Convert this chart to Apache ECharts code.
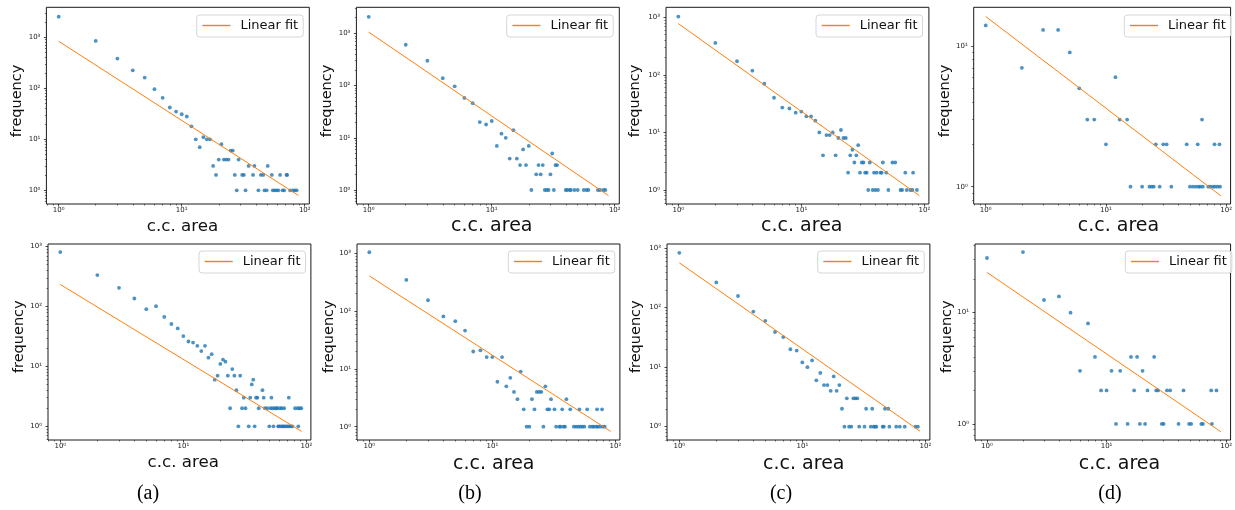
<!DOCTYPE html>
<html><head><meta charset="utf-8">
<script src="https://cdn.jsdelivr.net/npm/echarts@6/dist/echarts.min.js"></script>
<style>html,body{margin:0;padding:0;background:#fff}#c{width:1235px;height:510px}</style>
</head><body><div id="c"></div>
<script>
// ---------- data ----------
const xA1 = [1,2,3,4,5,6,7,8,9,10,11,12,13,14,15,16,17,18,19,20,21,22,23,24,25,26,27,28,29,31,32,33,35,38,39,42,44,46,47,49,50,54,55,57,59,61,63,66,68,71,72,76,80,83,86];
const yA1 = [2540,848,382,225,162,96,65,42,35,31,28,18,10,7,11,10,10,3,2,4,8,4,4,4,6,6,2,1,4,2,2,1,3,2,3,1,2,2,1,1,3,2,1,1,1,1,2,1,1,2,2,1,1,1,1];
const fitA1X = [1, 89], fitA1Y = [835, 0.79];

const xB1 = [1,2,3,4,5,6,7,8,9,10,11,12,13,14,15,16,17,18,19,20,21,23,24,25,26,27,28,29,30,31,32,33,34,40,41,43,44,47,50,56,59,61,73,76,81,84];
const yB1 = [2080,606,299,139,97,58,46,20,18,21,7,12,10,4,14,4,3,6,3,7,1,2,3,2,3,1,1,1,2,5,1,3,3,1,1,1,1,1,1,1,1,1,1,1,1,1];
const fitB1X = [1, 89], fitB1Y = [1060, 0.78];

const xC1 = [1,2,3,4,5,6,7,8,9,10,11,12,13,14,15,16,17,18,19,20,21,22,23,24,25,26,27,28,29,30,31,32,33,34,35,36,38,39,40,41,42,44,45,46,49,51,55,58,64,66,70,72,77,80,81,87];
const yC1 = [1026,358,172,118,70,40,27,26,22,23,19,19,16,10,4,9,9,10,4,8,11,8,8,2,4,5,3,4,6,2,3,3,2,2,1,3,1,2,1,2,1,2,2,3,2,1,3,3,1,1,2,1,1,1,2,1];
const fitC1X = [1, 91], fitC1Y = [775, 0.80];

const xD1 = [1,2,3,4,5,6,7,8,10,12,13,15,16,20,23,24,25,26,28,30,32,35,47,50,53,56,58,59,61,63,64,71,74,78,80,81,85,88,89];
const yD1 = [14,7,13,13,9,5,3,3,2,6,3,3,1,1,1,1,1,2,1,2,2,1,2,1,1,1,2,1,1,3,1,1,1,1,2,1,1,2,1];
const fitD1X = [1, 90.5], fitD1Y = [16.2, 0.86];

const xA2 = [1,2,3,4,5,6,7,8,9,10,11,12,13,14,15,16,17,18,19,20,21,22,23,24,25,26,27,28,29,30,31,32,34,35,36,37,38,39,40,41,44,45,46,48,50,51,52,53,54,55,57,58,59,60,61,62,63,64,65,66,67,69,71,72,73,75,77,81,85,86,88,91];
const yA2 = [809,334,205,136,90,101,67,51,43,32,26,25,22,18,22,14,16,6,7,11,13,12,7,2,9,7,4,1,7,2,3,2,1,3,5,6,1,3,3,2,4,3,2,2,1,2,3,2,1,2,2,2,1,1,2,1,2,1,1,2,1,1,1,3,1,1,1,2,2,1,2,2];
const fitA2X = [1, 91.6], fitA2Y = [233, 0.82];

const xB2 = [1,2,3,4,5,6,7,8,9,10,11,12,13,14,15,16,17,18,19,20,21,22,23,24,25,26,27,28,29,30,32,33,35,36,37,38,39,40,43,46,48,50,51,52,54,56,59,62,65,67,70,71,72,75,78,79,82];
const yB2 = [1042,346,154,81,67,46,20,21,16,16,6,16,5,7,4,3,9,2,1,1,3,2,4,4,4,1,5,2,2,3,2,1,1,1,2,1,1,3,2,1,1,1,2,1,1,1,2,1,1,1,1,2,1,1,2,1,1];
const fitB2X = [1, 91.6], fitB2Y = [406, 0.83];

const xC2 = [1,2,3,4,5,6,7,8,9,10,11,12,13,14,15,16,17,18,19,20,21,22,23,24,25,26,27,28,29,32,33,36,37,38,39,40,45,46,47,50,51,58,62,68,83,87];
const yC2 = [835,266,157,86,60,39,32,20,19,12,10,13,6,8,5,5,4,7,4,5,2,1,3,1,1,3,3,3,1,1,2,1,2,1,1,1,1,1,2,2,1,1,1,1,1,1];
const fitC2X = [1, 90.5], fitC2Y = [568, 0.84];

const xD2 = [1,2,3,4,5,6,7,8,9,10,11,12,13,15,16,17,18,19,20,21,22,25,26,27,29,30,32,34,40,44,49,51,62,64,75,76,83];
const yD2 = [31,35,13,14,10,3,8,4,2,2,3,1,3,1,4,2,4,1,3,1,2,4,2,2,1,1,2,2,1,2,1,1,1,1,2,1,2];
const fitD2X = [1, 90.5], fitD2Y = [23, 0.85];

const xTickValues = [1, 10, 100];
const xTickLabels = ['10\u2070', '10\u00b9', '10\u00b2'];
const yTickValues4 = [1, 10, 100, 1000];
const yTickLabels4 = ['10\u2070', '10\u00b9', '10\u00b2', '10\u00b3'];
const yTickValues2 = [1, 10];
const yTickLabels2 = ['10\u2070', '10\u00b9'];
const captions = ['(a)', '(b)', '(c)', '(d)'];
const xName = 'c.c. area', yName = 'frequency', fitName = 'Linear fit';

// ---------- layout ----------
const XLO = -0.1, XHI = 2.037, GW = 262.9;
const panels = [
  {x:xA1,y:yA1,fx:fitA1X,fy:fitA1Y,yt:yTickValues4,yl:yTickLabels4,left:46.4,top:7.3,h:196.7,yLo:-0.2686,yHi:3.588,legL:196.7,legT:15,nx:182.5,ny:227,nfs:16.7,fx0:17.5,fy0:101},
  {x:xB1,y:yB1,fx:fitB1X,fy:fitB1Y,yt:yTickValues4,yl:yTickLabels4,left:356.4,top:7.3,h:196.7,yLo:-0.268,yHi:3.50,legL:506.7,legT:15,nx:491.8,ny:226,nfs:19,fx0:327,fy0:101},
  {x:xC1,y:yC1,fx:fitC1X,fy:fitC1Y,yt:yTickValues4,yl:yTickLabels4,left:666,top:7.3,h:196.7,yLo:-0.243,yHi:3.172,legL:816,legT:15,nx:801.8,ny:226,nfs:19,fx0:635,fy0:101},
  {x:xD1,y:yD1,fx:fitD1X,fy:fitD1Y,yt:yTickValues2,yl:yTickLabels2,left:973.7,top:7.3,h:196.7,yLo:-0.123,yHi:1.275,legL:1124.3,legT:15,nx:1118.5,ny:226,nfs:19,fx0:945,fy0:101},
  {x:xA2,y:yA2,fx:fitA2X,fy:fitA2Y,yt:yTickValues4,yl:yTickLabels4,left:48,top:244,h:196,yLo:-0.229,yHi:3.043,legL:199,legT:251,nx:183.3,ny:462.7,nfs:16.7,fx0:19,fy0:336.7},
  {x:xB2,y:yB2,fx:fitB2X,fy:fitB2Y,yt:yTickValues4,yl:yTickLabels4,left:357,top:244,h:196,yLo:-0.230,yHi:3.161,legL:508.3,legT:251,nx:493.8,ny:464.5,nfs:19,fx0:329,fy0:336.7},
  {x:xC2,y:yC2,fx:fitC2X,fy:fitC2Y,yt:yTickValues4,yl:yTickLabels4,left:667,top:244,h:196,yLo:-0.224,yHi:3.07,legL:817.7,legT:251,nx:803.8,ny:464.5,nfs:19,fx0:636.7,fy0:336.7},
  {x:xD2,y:yD2,fx:fitD2X,fy:fitD2Y,yt:yTickValues2,yl:yTickLabels2,left:975,top:244,h:196,yLo:-0.144,yHi:1.617,legL:1125.3,legT:251,nx:1119.5,ny:464.5,nfs:19,fx0:947,fy0:336.7}
];
const captionPos = [[148,494],[470,494],[781,494],[1110,494]];

const FONT = 'DejaVu Sans';
const INK = '#1a1a1a';

function minorTicks(lo, hi) {
  const out = [];
  for (let k = Math.floor(lo) - 1; k <= Math.ceil(hi); k++) {
    for (let m = 2; m <= 9; m++) {
      const v = m * Math.pow(10, k);
      const l = Math.log10(v);
      if (l > lo && l < hi) out.push(v);
    }
  }
  return out;
}
function labelFor(v, vals, labs) {
  for (let i = 0; i < vals.length; i++) if (Math.abs(Math.log10(v) - Math.log10(vals[i])) < 1e-6) return labs[i];
  return '';
}
function inRange(vals, lo, hi) { return vals.filter(v => Math.log10(v) >= lo && Math.log10(v) <= hi); }

const grid = [], xAxis = [], yAxis = [], series = [], legend = [], graphic = [];
const N = panels.length;
panels.forEach((p, i) => {
  grid.push({left:p.left, top:p.top, width:GW, height:p.h, show:true, borderColor:INK, borderWidth:1, backgroundColor:'#fff', containLabel:false});
  const xMajor = inRange(xTickValues, XLO, XHI);
  const yMajor = inRange(p.yt, p.yLo, p.yHi);
  const common = {type:'log', gridIndex:i, splitLine:{show:false}, axisLine:{show:false}, minorTick:{show:false}, minorSplitLine:{show:false}};
  xAxis[i] = Object.assign({}, common, {min:Math.pow(10,XLO), max:Math.pow(10,XHI), position:'bottom',
    axisTick:{show:true, inside:false, length:2.5, lineStyle:{color:INK, width:0.8}, customValues:xMajor},
    axisLabel:{show:true, customValues:xMajor, formatter:v => labelFor(v, xTickValues, xTickLabels), fontSize:7, fontFamily:FONT, color:INK, margin:3}});
  xAxis[N+i] = Object.assign({}, common, {min:Math.pow(10,XLO), max:Math.pow(10,XHI), position:'bottom',
    axisTick:{show:true, inside:false, length:1.5, lineStyle:{color:INK, width:0.6}, customValues:minorTicks(XLO, XHI)},
    axisLabel:{show:false}});
  yAxis[i] = Object.assign({}, common, {min:Math.pow(10,p.yLo), max:Math.pow(10,p.yHi), position:'left',
    axisTick:{show:true, inside:false, length:2.5, lineStyle:{color:INK, width:0.8}, customValues:yMajor},
    axisLabel:{show:true, customValues:yMajor, formatter:v => labelFor(v, p.yt, p.yl), fontSize:7, fontFamily:FONT, color:INK, margin:6}});
  yAxis[N+i] = Object.assign({}, common, {min:Math.pow(10,p.yLo), max:Math.pow(10,p.yHi), position:'left',
    axisTick:{show:true, inside:false, length:1.5, lineStyle:{color:INK, width:0.6}, customValues:minorTicks(p.yLo, p.yHi)},
    axisLabel:{show:false}});
  series.push({type:'scatter', xAxisIndex:i, yAxisIndex:i, data:p.x.map((v,k)=>[v, p.y[k]]), symbolSize:3.8,
    itemStyle:{color:'#1f77b4'}, silent:true, z:2, animation:false});
  series.push({type:'line', name:fitName, xAxisIndex:i, yAxisIndex:i, data:p.fx.map((v,k)=>[v, p.fy[k]]), symbol:'none',
    lineStyle:{color:'#ff7f0e', width:1}, itemStyle:{color:'#ff7f0e'}, silent:true, z:3, animation:false});
  legend.push({show:true, data:[fitName], left:p.legL, top:p.legT, orient:'horizontal', selectedMode:false,
    padding:[4,5,5,5], itemWidth:28, itemHeight:13, borderColor:'#d6d6d6', borderWidth:1, borderRadius:3,
    itemStyle:{opacity:0, borderWidth:0}, lineStyle:{color:'#ff7f0e', width:1.4, opacity:1},
    backgroundColor:'rgba(255,255,255,0.85)', textStyle:{fontFamily:FONT, fontSize:13, color:'#111', padding:[0,0,0,5]}});
  graphic.push({type:'text', x:p.nx, y:p.ny, style:{text:xName, fontFamily:FONT, fontSize:p.nfs, fill:'#111', align:'center', verticalAlign:'middle'}, silent:true});
  graphic.push({type:'text', x:p.fx0, y:p.fy0, rotation:Math.PI/2, style:{text:yName, fontFamily:FONT, fontSize:14.5, fill:'#111', align:'center', verticalAlign:'middle'}, silent:true});
});
captions.forEach((c, i) => {
  graphic.push({type:'text', x:captionPos[i][0], y:captionPos[i][1], style:{text:c, fontFamily:'Liberation Serif', fontSize:20, fill:'#000', align:'center', verticalAlign:'middle'}, silent:true});
});

const chart = echarts.init(document.getElementById('c'), null, {renderer:'canvas'});
chart.setOption({animation:false, backgroundColor:'#fff', grid, xAxis, yAxis, series, legend, graphic});
</script></body></html>
